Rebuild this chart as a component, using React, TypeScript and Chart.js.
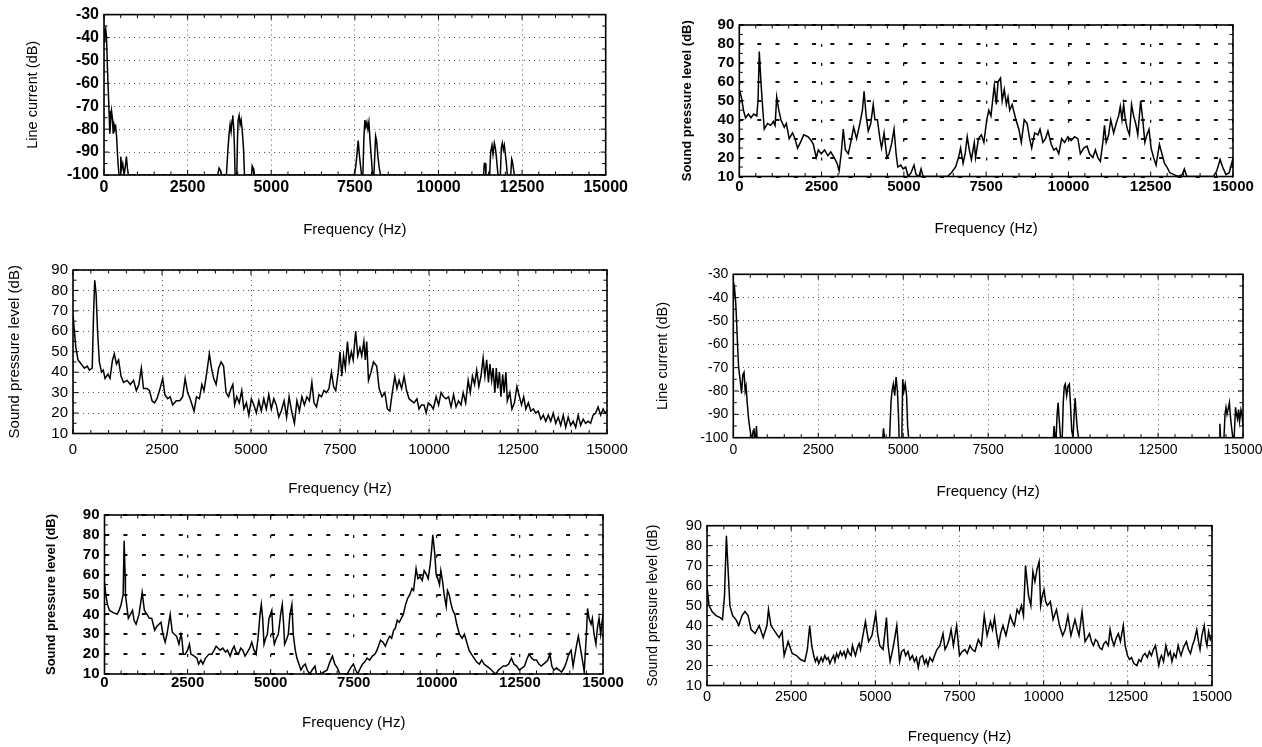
import React, { useEffect, useRef } from "react";
import { Chart, registerables } from "chart.js";

Chart.register(...registerables);
Chart.defaults.font.family = "'Liberation Sans', Arial, Helvetica, sans-serif";
Chart.defaults.color = "#000";

type Pt = [number, number];

// ---------- axis values ----------
const freqTicks = [0, 2500, 5000, 7500, 10000, 12500, 15000];
const currentTicks = [-100, -90, -80, -70, -60, -50, -40, -30];
const splTicks = [10, 20, 30, 40, 50, 60, 70, 80, 90];
const freqTitle = "Frequency (Hz)";
const currentTitle = "Line current (dB)";
const splTitle = "Sound pressure level (dB)";

// ---------- series: [frequency Hz, level dB] ----------
const lineCurrentA: Pt[] = [
  [0, -42], [25, -37], [50, -36], [75, -40], [100, -52], [125, -62], [150, -72], [175, -82], [200, -76], [225, -72],
  [250, -75], [275, -82], [300, -78], [325, -80], [350, -79], [375, -83], [400, -90], [425, -96], [450, -100], [480, -100],
  [500, -92], [530, -97], [560, -95], [600, -100], [640, -96], [670, -92], [700, -97], [730, -100], [3400, -100], [3440, -97],
  [3480, -98], [3520, -100], [3660, -100], [3700, -90], [3740, -82], [3770, -78], [3800, -81], [3830, -76], [3850, -74], [3880, -80],
  [3900, -88], [3920, -100], [3970, -100], [3990, -85], [4010, -76], [4040, -74], [4070, -78], [4100, -76], [4130, -80], [4170, -88],
  [4200, -100], [4410, -100], [4430, -96], [4460, -97], [4480, -100], [7480, -100], [7530, -96], [7570, -90], [7600, -85], [7640, -92],
  [7700, -100], [7740, -100], [7770, -84], [7800, -76], [7830, -79], [7860, -77], [7890, -80], [7920, -77], [7950, -84], [7990, -92],
  [8030, -100], [8070, -100], [8100, -90], [8120, -83], [8150, -85], [8190, -92], [8230, -97], [8270, -100], [11350, -100], [11370, -95],
  [11400, -95], [11420, -100], [11530, -100], [11560, -90], [11600, -87], [11630, -91], [11670, -86], [11700, -88], [11730, -92], [11780, -100],
  [11850, -100], [11880, -88], [11910, -86], [11940, -89], [11970, -87], [12000, -91], [12030, -95], [12060, -100], [12160, -100], [12190, -93],
  [12210, -94], [12240, -97], [12270, -100], [15000, -100],
];

const soundLevelA: Pt[] = [
  [0, 56], [63, 52], [126, 45], [190, 41], [278, 43], [354, 41], [442, 43], [531, 42], [569, 50], [607, 76],
  [657, 60], [695, 50], [758, 35], [859, 38], [948, 37], [1036, 39], [1087, 37], [1137, 52], [1201, 45], [1264, 40],
  [1365, 36], [1428, 38], [1517, 30], [1618, 33], [1693, 30], [1769, 25], [1858, 28], [1959, 32], [2085, 31], [2186, 29],
  [2249, 27], [2338, 20], [2401, 24], [2490, 22], [2591, 24], [2692, 21], [2780, 23], [2881, 20], [2970, 17], [3033, 13],
  [3096, 22], [3159, 35], [3223, 24], [3311, 22], [3387, 28], [3475, 36], [3564, 30], [3665, 38], [3741, 45], [3791, 55],
  [3854, 42], [3918, 34], [3994, 38], [4069, 48], [4120, 40], [4196, 40], [4272, 30], [4322, 25], [4398, 33], [4486, 20],
  [4550, 22], [4625, 27], [4701, 35], [4764, 22], [4815, 15], [4903, 16], [4979, 14], [5055, 15], [5131, 10], [5219, 12],
  [5308, 16], [5371, 11], [5459, 10], [5523, 14], [5586, 10], [6319, 10], [6445, 12], [6572, 15], [6660, 20], [6723, 25],
  [6799, 17], [6862, 22], [6925, 31], [6989, 24], [7052, 19], [7140, 28], [7178, 20], [7267, 30], [7355, 32], [7431, 28],
  [7519, 40], [7582, 45], [7646, 42], [7747, 58], [7810, 48], [7861, 60], [7937, 62], [7987, 50], [8050, 56], [8114, 48],
  [8164, 52], [8215, 45], [8290, 48], [8404, 40], [8493, 35], [8568, 28], [8657, 40], [8745, 38], [8821, 30], [8884, 25],
  [8973, 33], [9074, 32], [9137, 35], [9225, 28], [9301, 30], [9377, 34], [9478, 27], [9554, 24], [9630, 25], [9706, 22],
  [9794, 30], [9883, 28], [9984, 31], [10085, 29], [10186, 31], [10287, 30], [10363, 22], [10464, 25], [10565, 26], [10641, 22],
  [10742, 20], [10818, 24], [10894, 20], [10970, 18], [11045, 28], [11096, 37], [11146, 28], [11222, 32], [11285, 40], [11374, 33],
  [11450, 38], [11525, 42], [11576, 47], [11627, 40], [11677, 48], [11728, 40], [11791, 35], [11854, 32], [11917, 48], [11980, 42],
  [12044, 38], [12107, 32], [12195, 50], [12258, 40], [12322, 28], [12385, 32], [12448, 35], [12511, 25], [12587, 20], [12663, 16],
  [12764, 27], [12840, 22], [12916, 17], [12992, 15], [13080, 12], [13206, 11], [13332, 10], [13459, 11], [13522, 14], [13598, 10],
  [14407, 10], [14508, 13], [14609, 19], [14685, 15], [14786, 11], [14887, 12], [14976, 18], [15000, 15],
];

const soundLevelB: Pt[] = [
  [0, 68], [40, 60], [80, 52], [140, 46], [230, 44], [320, 42], [400, 43], [460, 41], [540, 42], [580, 70],
  [611, 85], [650, 78], [690, 60], [740, 45], [800, 40], [850, 41], [900, 37], [980, 39], [1040, 37], [1110, 46],
  [1160, 49], [1220, 44], [1280, 46], [1350, 38], [1420, 35], [1520, 36], [1610, 34], [1700, 36], [1780, 31], [1850, 34],
  [1920, 42], [1980, 32], [2080, 32], [2150, 31], [2220, 26], [2290, 25], [2360, 27], [2430, 31], [2520, 37], [2580, 29],
  [2660, 27], [2730, 28], [2800, 24], [2900, 26], [3000, 26], [3080, 28], [3150, 37], [3220, 30], [3290, 27], [3400, 21],
  [3470, 28], [3550, 27], [3620, 34], [3680, 31], [3760, 40], [3830, 49], [3890, 42], [3950, 37], [4020, 34], [4090, 42],
  [4160, 45], [4230, 43], [4300, 30], [4370, 28], [4440, 32], [4490, 34], [4540, 24], [4600, 28], [4670, 25], [4740, 31],
  [4800, 22], [4870, 25], [4940, 19], [5010, 27], [5080, 24], [5150, 20], [5220, 26], [5290, 21], [5360, 27], [5430, 22],
  [5500, 29], [5570, 22], [5640, 27], [5710, 24], [5780, 18], [5850, 21], [5930, 26], [6000, 18], [6070, 28], [6140, 21],
  [6220, 15], [6290, 26], [6360, 21], [6430, 28], [6500, 24], [6570, 28], [6640, 26], [6710, 35], [6770, 25], [6840, 23],
  [6910, 29], [6980, 28], [7050, 31], [7120, 30], [7190, 32], [7260, 40], [7320, 33], [7380, 31], [7450, 40], [7500, 50],
  [7550, 38], [7600, 48], [7650, 42], [7710, 55], [7760, 45], [7820, 50], [7870, 46], [7940, 60], [8000, 48], [8060, 52],
  [8110, 48], [8170, 55], [8210, 46], [8250, 55], [8300, 36], [8370, 40], [8440, 45], [8530, 43], [8600, 32], [8680, 28],
  [8760, 30], [8830, 22], [8900, 21], [8960, 29], [9040, 38], [9100, 32], [9160, 36], [9230, 32], [9300, 38], [9370, 31],
  [9440, 27], [9510, 26], [9580, 25], [9660, 27], [9720, 22], [9790, 24], [9860, 24], [9920, 20], [9980, 25], [10050, 24],
  [10120, 22], [10200, 28], [10270, 24], [10340, 30], [10410, 28], [10480, 27], [10550, 28], [10620, 23], [10690, 29], [10760, 23],
  [10830, 26], [10900, 24], [10960, 30], [11030, 25], [11100, 36], [11160, 30], [11220, 38], [11280, 34], [11340, 41], [11400, 33],
  [11460, 38], [11520, 47], [11570, 38], [11620, 46], [11670, 35], [11710, 44], [11760, 36], [11800, 42], [11850, 30], [11890, 42],
  [11930, 32], [11980, 40], [12020, 28], [12070, 39], [12110, 30], [12160, 40], [12200, 26], [12270, 30], [12330, 22], [12400, 25],
  [12470, 33], [12540, 28], [12600, 24], [12660, 28], [12720, 22], [12790, 25], [12860, 21], [12930, 22], [13000, 20], [13070, 21],
  [13140, 17], [13210, 19], [13280, 16], [13350, 19], [13420, 16], [13490, 20], [13560, 15], [13630, 18], [13700, 14], [13770, 19],
  [13840, 13], [13910, 18], [13980, 14], [14050, 16], [14120, 13], [14190, 19], [14260, 14], [14330, 17], [14400, 15], [14470, 16],
  [14540, 15], [14610, 19], [14680, 20], [14750, 23], [14820, 19], [14890, 22], [14950, 20], [15000, 21],
];

const lineCurrentB: Pt[] = [
  [0, -40], [36, -36], [70, -42], [97, -50], [130, -62], [158, -70], [200, -75], [243, -81], [280, -73], [316, -72],
  [350, -80], [377, -78], [410, -85], [450, -92], [487, -96], [530, -100], [560, -100], [585, -97], [608, -96], [630, -100],
  [660, -100], [681, -95], [700, -100], [4400, -100], [4420, -96], [4450, -100], [4600, -100], [4640, -85], [4670, -80], [4710, -77],
  [4750, -82], [4790, -74], [4830, -80], [4860, -90], [4880, -100], [4960, -100], [4985, -75], [5020, -80], [5060, -77], [5100, -82],
  [5130, -95], [5160, -100], [9420, -100], [9440, -95], [9470, -100], [9500, -100], [9530, -90], [9560, -85], [9590, -92], [9630, -100],
  [9680, -100], [9710, -85], [9740, -78], [9770, -77], [9810, -82], [9850, -78], [9890, -77], [9920, -85], [9960, -97], [10000, -100],
  [10030, -90], [10060, -83], [10100, -92], [10130, -97], [10160, -100], [14300, -100], [14320, -94], [14340, -100], [14440, -100], [14470, -90],
  [14500, -87], [14530, -90], [14560, -88], [14600, -85], [14630, -91], [14660, -95], [14700, -100], [14740, -100], [14780, -87], [14810, -90],
  [14840, -92], [14870, -88], [14900, -93], [14940, -88], [14970, -90], [15000, -95],
];

const soundLevelC: Pt[] = [
  [0, 56], [40, 50], [88, 45], [150, 42], [250, 41], [378, 40], [440, 42], [500, 45], [560, 50], [591, 77],
  [620, 60], [630, 50], [717, 38], [780, 40], [843, 42], [890, 37], [950, 35], [1040, 40], [1133, 51], [1200, 42],
  [1280, 40], [1350, 38], [1420, 38], [1510, 32], [1580, 34], [1640, 35], [1700, 36], [1760, 30], [1825, 26], [1880, 30],
  [1976, 40], [2040, 31], [2100, 30], [2170, 29], [2240, 25], [2300, 30], [2328, 28], [2370, 20], [2430, 20], [2500, 22],
  [2555, 25], [2600, 20], [2700, 19], [2780, 18], [2832, 15], [2900, 17], [2960, 15], [3040, 18], [3146, 20], [3230, 20],
  [3300, 22], [3360, 24], [3420, 23], [3480, 22], [3560, 23], [3640, 21], [3700, 22], [3780, 19], [3840, 22], [3901, 24],
  [3960, 21], [4030, 20], [4100, 23], [4160, 22], [4230, 19], [4300, 21], [4370, 23], [4430, 26], [4500, 22], [4560, 20],
  [4620, 28], [4680, 40], [4719, 45], [4760, 38], [4800, 25], [4850, 28], [4900, 30], [4950, 38], [5034, 42], [5070, 30],
  [5110, 25], [5170, 28], [5230, 30], [5300, 40], [5349, 45], [5390, 35], [5420, 25], [5470, 27], [5530, 30], [5580, 40],
  [5638, 45], [5680, 30], [5740, 22], [5789, 18], [5850, 15], [5910, 12], [5980, 14], [6040, 15], [6100, 12], [6170, 10],
  [6250, 12], [6330, 14], [6380, 10], [6500, 10], [6600, 11], [6700, 12], [6780, 16], [6859, 19], [6930, 15], [7010, 13],
  [7080, 10], [7300, 10], [7400, 13], [7488, 15], [7560, 12], [7620, 10], [7700, 13], [7765, 15], [7830, 16], [7900, 18],
  [7980, 17], [8060, 19], [8140, 20], [8200, 22], [8306, 27], [8380, 26], [8450, 24], [8520, 27], [8580, 29], [8640, 28],
  [8700, 32], [8750, 33], [8810, 37], [8870, 36], [8930, 38], [8990, 40], [9061, 45], [9120, 48], [9190, 50], [9250, 53],
  [9300, 52], [9376, 63], [9430, 58], [9500, 59], [9560, 57], [9620, 62], [9690, 60], [9740, 58], [9800, 65], [9840, 72],
  [9879, 80], [9910, 75], [9940, 70], [9980, 60], [10030, 58], [10080, 55], [10120, 62], [10170, 57], [10220, 50], [10282, 44],
  [10320, 52], [10370, 50], [10430, 45], [10480, 42], [10540, 40], [10600, 35], [10680, 30], [10760, 28], [10830, 30], [10900, 26],
  [10970, 22], [11040, 20], [11120, 18], [11200, 16], [11280, 15], [11350, 17], [11420, 15], [11500, 14], [11580, 13], [11640, 12],
  [11704, 11], [11780, 10], [11850, 12], [11930, 13], [12000, 14], [12080, 14], [12160, 15], [12245, 18], [12320, 15], [12400, 14],
  [12480, 12], [12560, 13], [12640, 14], [12700, 17], [12774, 20], [12850, 18], [12920, 17], [13000, 17], [13070, 15], [13140, 14],
  [13210, 15], [13280, 16], [13340, 17], [13403, 20], [13460, 14], [13520, 12], [13600, 13], [13680, 12], [13750, 11], [13830, 13],
  [13900, 16], [13969, 20], [14040, 22], [14100, 14], [14160, 20], [14200, 24], [14258, 29], [14330, 22], [14400, 15], [14435, 11],
  [14500, 30], [14536, 43], [14580, 38], [14640, 35], [14680, 38], [14730, 30], [14787, 25], [14830, 33], [14880, 38], [14930, 30],
  [14970, 36], [15000, 40],
];

const soundLevelD: Pt[] = [
  [0, 60], [60, 50], [150, 47], [270, 45], [392, 44], [460, 43], [520, 55], [576, 85], [620, 70], [680, 50],
  [760, 45], [860, 43], [944, 40], [1040, 45], [1127, 47], [1220, 45], [1310, 38], [1430, 36], [1550, 40], [1670, 34],
  [1780, 40], [1826, 48], [1900, 40], [2020, 37], [2140, 34], [2230, 37], [2292, 25], [2410, 32], [2530, 26], [2660, 25],
  [2780, 23], [2904, 22], [2980, 28], [3051, 40], [3110, 30], [3170, 25], [3220, 22], [3270, 24], [3320, 21], [3390, 24],
  [3440, 22], [3500, 25], [3550, 23], [3600, 24], [3650, 21], [3700, 23], [3760, 25], [3800, 22], [3850, 26], [3900, 24],
  [3960, 27], [4010, 25], [4070, 27], [4120, 24], [4180, 28], [4230, 26], [4280, 25], [4320, 30], [4370, 27], [4410, 25],
  [4470, 29], [4520, 31], [4560, 28], [4620, 34], [4706, 42], [4760, 36], [4800, 32], [4900, 35], [5012, 46], [5070, 36],
  [5130, 30], [5230, 28], [5331, 44], [5380, 30], [5440, 22], [5540, 30], [5637, 40], [5720, 22], [5780, 27], [5850, 28],
  [5900, 25], [5970, 27], [6030, 23], [6100, 25], [6160, 22], [6220, 24], [6275, 19], [6330, 24], [6400, 25], [6460, 21],
  [6510, 23], [6560, 20], [6620, 24], [6700, 22], [6760, 25], [6830, 28], [6920, 30], [7010, 36], [7070, 28], [7130, 30],
  [7190, 33], [7250, 38], [7320, 30], [7414, 40], [7500, 25], [7580, 27], [7660, 28], [7730, 26], [7810, 30], [7880, 28],
  [7960, 27], [8060, 33], [8150, 30], [8235, 45], [8320, 35], [8420, 42], [8480, 38], [8540, 44], [8600, 36], [8660, 30],
  [8720, 36], [8790, 40], [8880, 35], [9007, 45], [9070, 42], [9130, 40], [9210, 48], [9270, 46], [9340, 50], [9400, 45],
  [9461, 70], [9550, 55], [9620, 50], [9680, 67], [9740, 62], [9800, 68], [9865, 72], [9910, 50], [9960, 55], [10010, 58],
  [10060, 52], [10110, 50], [10200, 52], [10280, 43], [10380, 48], [10470, 40], [10564, 35], [10640, 38], [10720, 45], [10810, 35],
  [10930, 43], [11000, 38], [11050, 35], [11140, 47], [11230, 32], [11300, 34], [11360, 36], [11420, 32], [11480, 30], [11540, 33],
  [11600, 32], [11660, 29], [11730, 28], [11790, 31], [11850, 32], [11920, 30], [11973, 38], [12030, 33], [12090, 30], [12160, 34],
  [12220, 36], [12280, 32], [12365, 40], [12420, 30], [12490, 25], [12550, 23], [12610, 24], [12680, 21], [12770, 20], [12830, 23],
  [12890, 22], [12950, 25], [13010, 26], [13080, 24], [13140, 27], [13200, 25], [13260, 28], [13321, 30], [13380, 24], [13420, 20],
  [13470, 24], [13500, 25], [13560, 22], [13630, 30], [13700, 25], [13760, 27], [13810, 22], [13870, 26], [13930, 24], [13995, 30],
  [14040, 27], [14080, 25], [14150, 29], [14240, 32], [14300, 28], [14360, 26], [14420, 30], [14480, 33], [14547, 38], [14600, 32],
  [14645, 28], [14700, 35], [14770, 40], [14810, 33], [14850, 30], [14900, 37], [14950, 33], [15000, 35],
];

// ---------- layout (page pixels) ----------
interface PanelSpec {
  series: Pt[];
  yTicks: number[];
  yTitle: string;
  L: number; T: number; R: number; B: number;
  yTitleDist: number; xTitleDist: number; xTickDist: number;
  tickSize: number; tickBold: boolean;
  xTitleSize: number; yTitleSize: number; yTitleBold: boolean;
  grid: "dotted" | "dashed";
}

const panels: PanelSpec[] = [
  { series: lineCurrentA, yTicks: currentTicks, yTitle: currentTitle, L: 104, T: 14.3, R: 605.7, B: 175,
    yTitleDist: 71, xTitleDist: 55, xTickDist: 13, tickSize: 16, tickBold: true, xTitleSize: 15, yTitleSize: 14.5, yTitleBold: false, grid: "dotted" },
  { series: soundLevelA, yTicks: splTicks, yTitle: splTitle, L: 739.3, T: 25, R: 1233, B: 176.5,
    yTitleDist: 52, xTitleDist: 52, xTickDist: 10, tickSize: 15, tickBold: true, xTitleSize: 15, yTitleSize: 13, yTitleBold: true, grid: "dashed" },
  { series: soundLevelB, yTicks: splTicks, yTitle: splTitle, L: 73, T: 269.5, R: 607, B: 433.5,
    yTitleDist: 58, xTitleDist: 55, xTickDist: 16.5, tickSize: 15, tickBold: false, xTitleSize: 15, yTitleSize: 15, yTitleBold: false, grid: "dotted" },
  { series: lineCurrentB, yTicks: currentTicks, yTitle: currentTitle, L: 733.3, T: 274.3, R: 1243, B: 437.7,
    yTitleDist: 71, xTitleDist: 54, xTickDist: 12.3, tickSize: 14, tickBold: false, xTitleSize: 15, yTitleSize: 14.5, yTitleBold: false, grid: "dotted" },
  { series: soundLevelC, yTicks: splTicks, yTitle: splTitle, L: 104.5, T: 515, R: 603, B: 674,
    yTitleDist: 52.5, xTitleDist: 48.7, xTickDist: 9, tickSize: 15, tickBold: true, xTitleSize: 15, yTitleSize: 13, yTitleBold: true, grid: "dashed" },
  { series: soundLevelD, yTicks: splTicks, yTitle: splTitle, L: 707, T: 525.5, R: 1212, B: 685.5,
    yTitleDist: 54, xTitleDist: 51.5, xTickDist: 11, tickSize: 14.5, tickBold: false, xTitleSize: 15, yTitleSize: 14, yTitleBold: false, grid: "dotted" },
];

// frame + inward minor ticks, drawn with the chart's own scales
const frameTicks = {
  id: "frameTicks",
  afterDraw(chart: any) {
    const { ctx, chartArea: a, scales } = chart;
    const xs = scales.x;
    const ys = scales.y;
    ctx.save();
    ctx.setLineDash([]);
    ctx.strokeStyle = "#000";
    ctx.lineWidth = 1;
    ctx.beginPath();
    for (let v = xs.min; v <= xs.max + 1e-6; v += 500) {
      const px = xs.getPixelForValue(v);
      const len = v % 2500 === 0 ? 5 : 3.5;
      ctx.moveTo(px, a.bottom); ctx.lineTo(px, a.bottom - len);
      ctx.moveTo(px, a.top); ctx.lineTo(px, a.top + len);
    }
    for (let v = ys.min; v <= ys.max + 1e-6; v += 5) {
      const py = ys.getPixelForValue(v);
      const len = v % 10 === 0 ? 5 : 3.5;
      ctx.moveTo(a.left, py); ctx.lineTo(a.left + len, py);
      ctx.moveTo(a.right, py); ctx.lineTo(a.right - len, py);
    }
    ctx.stroke();
    ctx.lineWidth = 1.6;
    ctx.strokeRect(a.left, a.top, a.right - a.left, a.bottom - a.top);
    ctx.restore();
  },
};

function Panel({ spec }: { spec: PanelSpec }) {
  const ref = useRef<HTMLCanvasElement | null>(null);
  const yTitleLH = spec.yTitleSize * 1.2;
  const xTitleLH = spec.xTitleSize * 1.2;
  const tickLH = spec.tickSize * 1.2;
  const left = Math.round(spec.L - (spec.yTitleDist + yTitleLH / 2));
  const yW = spec.L - left;
  const top = Math.round(spec.T - 14);
  const padT = spec.T - top;
  const width = Math.round(spec.R - left + 30);
  const padR = width - (spec.R - left);
  const height = Math.round(spec.B + spec.xTitleDist + xTitleLH / 2 - top);
  const xH = top + height - spec.B;

  useEffect(() => {
    const canvas = ref.current;
    if (!canvas) return;
    const dashed = spec.grid === "dashed";
    const plotW = spec.R - spec.L;
    const plotH = spec.B - spec.T;
    const rowGap = plotH / (spec.yTicks.length - 1);
    const tickFont = { size: spec.tickSize, weight: spec.tickBold ? "bold" : "normal" } as any;
    const chart = new Chart(canvas, {
      type: "line",
      data: {
        datasets: [
          {
            data: spec.series.map(([x, y]) => ({ x, y })),
            borderColor: "#000",
            borderWidth: 1.5,
            pointRadius: 0,
            tension: 0,
            fill: false,
          },
        ],
      },
      options: {
        responsive: false,
        animation: false,
        events: [],
        layout: { padding: { left: 0, top: padT, right: padR, bottom: 0 } },
        plugins: { legend: { display: false }, tooltip: { enabled: false } },
        scales: {
          x: {
            type: "linear",
            min: freqTicks[0],
            max: freqTicks[freqTicks.length - 1],
            afterBuildTicks: (s: any) => { s.ticks = freqTicks.map((v) => ({ value: v })); },
            afterFit: (s: any) => { s.height = xH; },
            ticks: {
              autoSkip: false,
              maxRotation: 0,
              padding: Math.max(0, spec.xTickDist - tickLH / 2),
              font: tickFont,
              color: "#000",
              callback: (v: any) => String(v),
            },
            grid: {
              drawTicks: false,
              color: dashed ? "#111" : "#555",
              lineWidth: dashed ? 1.3 : 1,
            },
            border: dashed
              ? { display: false, dash: [3, rowGap - 3], dashOffset: 0 }
              : { display: false, dash: [1, 4] },
            title: {
              display: true,
              text: freqTitle,
              padding: 0,
              color: "#000",
              font: { size: spec.xTitleSize, weight: "normal" } as any,
            },
          },
          y: {
            type: "linear",
            min: spec.yTicks[0],
            max: spec.yTicks[spec.yTicks.length - 1],
            afterBuildTicks: (s: any) => { s.ticks = spec.yTicks.map((v) => ({ value: v })); },
            afterFit: (s: any) => { s.width = yW; },
            ticks: {
              autoSkip: false,
              padding: 5,
              font: tickFont,
              color: "#000",
              callback: (v: any) => String(v),
            },
            grid: {
              drawTicks: false,
              color: dashed ? "#111" : "#555",
              lineWidth: dashed ? 2 : 1,
            },
            border: dashed
              ? { display: false, dash: [4, plotW / 30 * 1.11 - 4], dashOffset: 0 }
              : { display: false, dash: [1, 4] },
            title: {
              display: true,
              text: spec.yTitle,
              padding: 0,
              color: "#000",
              font: { size: spec.yTitleSize, weight: spec.yTitleBold ? "bold" : "normal" } as any,
            },
          },
        },
      },
      plugins: [frameTicks],
    });
    return () => chart.destroy();
  }, []);

  return (
    <canvas
      ref={ref}
      width={width}
      height={height}
      style={{ position: "absolute", left, top, width, height }}
    />
  );
}

export default function App() {
  return (
    <div style={{ position: "absolute", left: 0, top: 0, width: 1262, height: 747, background: "#fff", overflow: "hidden" }}>
      {panels.map((p, i) => (
        <Panel key={i} spec={p} />
      ))}
    </div>
  );
}
